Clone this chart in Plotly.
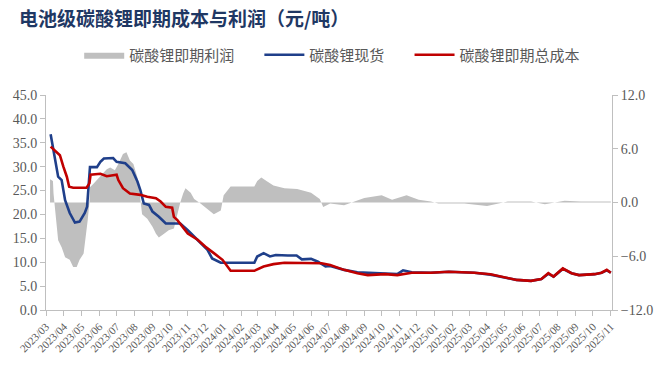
import plotly.graph_objects as go

# 碳酸锂现货 (万元/吨)
spot_dates = ["2023-03-09","2023-03-16","2023-03-22","2023-03-28","2023-04-03","2023-04-11","2023-04-20","2023-04-28",
              "2023-05-07","2023-05-11","2023-05-15","2023-05-16","2023-05-28","2023-06-03","2023-06-09","2023-06-25",
              "2023-07-01","2023-07-16","2023-07-28","2023-08-06","2023-08-11","2023-08-17","2023-08-26","2023-09-01",
              "2023-09-12","2023-09-24","2023-10-11","2023-10-19","2023-11-01","2023-11-18","2023-12-05","2023-12-13",
              "2023-12-28","2024-01-20","2024-02-24","2024-02-29","2024-03-11","2024-03-22","2024-04-01","2024-04-22",
              "2024-05-07","2024-05-16","2024-06-01","2024-06-13","2024-06-26","2024-07-04","2024-07-28","2024-08-20",
              "2024-09-07","2024-10-07","2024-10-28","2024-11-07","2024-11-22","2024-12-25","2025-01-25","2025-03-10",
              "2025-04-07","2025-05-01","2025-05-22","2025-06-16","2025-07-04","2025-07-16","2025-07-25","2025-08-10",
              "2025-08-25","2025-09-07","2025-10-04","2025-10-16","2025-10-25","2025-11-01"]
spot_values = [36.8,32.1,27.9,27.2,23.0,20.3,18.3,18.5,
               20.3,21.6,27.2,29.9,29.9,31.0,31.7,31.8,
               31.0,30.7,29.3,26.9,25.1,22.3,22.0,20.6,
               19.5,18.1,18.1,18.1,16.7,14.7,12.6,10.8,
               9.9,9.9,9.9,11.2,11.9,11.2,11.5,11.4,
               11.4,10.6,10.7,10.1,9.1,9.2,8.4,7.9,
               7.8,7.7,7.5,8.3,7.9,7.8,8.0,7.8,
               7.4,6.8,6.3,6.1,6.5,7.6,7.0,8.6,
               7.7,7.3,7.5,7.8,8.3,7.8]

# 碳酸锂即期总成本 (万元/吨)
cost_dates = ["2023-03-09","2023-03-16","2023-03-25","2023-03-31","2023-04-06","2023-04-10","2023-04-17","2023-05-10",
              "2023-05-15","2023-05-17","2023-06-03","2023-06-14","2023-07-01","2023-07-04","2023-07-12","2023-07-24",
              "2023-08-11","2023-08-23","2023-09-07","2023-09-15","2023-09-24","2023-10-05","2023-10-08","2023-10-14",
              "2023-10-23","2023-11-01","2023-11-18","2023-12-01","2023-12-16","2023-12-31","2024-01-14","2024-02-24",
              "2024-03-11","2024-03-28","2024-04-16","2024-05-13","2024-06-19","2024-07-04","2024-07-28","2024-08-20",
              "2024-09-07","2024-10-07","2024-10-28","2024-11-22","2024-12-25","2025-01-25","2025-03-10","2025-04-07",
              "2025-05-01","2025-05-22","2025-06-16","2025-07-04","2025-07-16","2025-07-25","2025-08-10","2025-08-25",
              "2025-09-07","2025-10-04","2025-10-16","2025-10-25","2025-11-01"]
cost_values = [34.2,33.5,32.4,30.0,27.9,25.8,25.6,25.6,
               26.5,28.3,28.5,28.0,28.3,27.2,25.5,24.4,
               24.1,23.7,23.4,22.7,21.6,21.4,19.5,18.8,
               17.4,16.0,14.7,13.3,11.9,10.5,8.2,8.2,
               9.1,9.6,9.9,9.9,9.8,9.4,8.4,7.7,
               7.3,7.5,7.3,7.8,7.8,8.0,7.8,7.5,
               6.8,6.3,6.1,6.5,7.7,7.0,8.7,7.7,
               7.3,7.5,7.8,8.4,7.8]

# 碳酸锂即期利润 (万元/吨, 右轴)
profit_dates = ["2023-03-08","2023-03-13","2023-03-14","2023-03-19","2023-03-22","2023-03-28","2023-04-03","2023-04-11",
                "2023-04-17","2023-04-23","2023-04-28","2023-05-05","2023-05-09","2023-05-12","2023-05-15","2023-05-16",
                "2023-05-22","2023-06-03","2023-06-14","2023-06-20","2023-06-28","2023-07-04","2023-07-12","2023-07-18",
                "2023-07-24","2023-07-30","2023-08-06","2023-08-10","2023-08-14","2023-08-23","2023-09-01","2023-09-07",
                "2023-09-12","2023-09-21","2023-09-29","2023-10-08","2023-10-14","2023-10-19","2023-10-24","2023-10-28",
                "2023-11-06","2023-11-12","2023-11-23","2023-12-05","2023-12-16","2023-12-28","2024-01-02","2024-01-14",
                "2024-02-24","2024-02-29","2024-03-07","2024-03-16","2024-03-28","2024-04-16","2024-05-08","2024-06-01",
                "2024-06-16","2024-06-22","2024-07-04","2024-07-28","2024-08-10","2024-09-01","2024-10-01","2024-10-19",
                "2024-11-13","2024-12-04","2024-12-25","2025-01-07","2025-02-21","2025-04-01","2025-05-07","2025-06-16",
                "2025-07-10","2025-08-13","2025-09-10","2025-10-25","2025-11-01"]
profit_values = [2.6,2.4,1.0,-2.0,-4.2,-5.0,-6.1,-6.4,
                 -7.2,-7.2,-6.4,-5.7,-3.9,-2.0,0.0,1.7,
                 2.1,3.0,3.7,3.9,3.6,4.3,5.4,5.6,
                 4.7,4.3,2.8,1.0,-1.3,-1.8,-2.7,-3.5,
                 -3.9,-3.5,-3.1,-2.9,-1.3,0.0,1.0,1.6,
                 1.1,0.4,-0.1,-0.7,-1.3,-0.9,0.8,1.8,
                 1.8,2.4,2.8,2.4,1.9,1.6,1.5,1.1,
                 0.4,-0.5,-0.1,-0.3,0.0,0.5,0.8,0.3,
                 0.8,0.3,0.1,-0.1,-0.1,-0.4,0.1,0.1,
                 -0.2,0.2,0.1,0.1,0.1]

left_ticks = [0, 5, 10, 15, 20, 25, 30, 35, 40, 45]
right_ticks = [-12, -6, 0, 6, 12]

CJK = "Noto Sans CJK SC"
SERIF = "Liberation Serif"
GREY_TXT = "#595959"
AXIS_COL = "#bfbfbf"
GAP = "\u00a0" * 6

fig = go.Figure()
# profit on the base (right) axis so the price lines, on the overlaying axis, draw above it
fig.add_trace(go.Scatter(
    x=profit_dates, y=profit_values, name="碳酸锂即期利润" + GAP, yaxis="y",
    mode="lines", line=dict(width=0, color="#bfbfbf"),
    fill="tozeroy", fillcolor="#bfbfbf"))
fig.add_trace(go.Scatter(
    x=spot_dates, y=spot_values, name="碳酸锂现货" + GAP, mode="lines", yaxis="y2",
    line=dict(color="#1f3f8a", width=2.6)))
fig.add_trace(go.Scatter(
    x=cost_dates, y=cost_values, name="碳酸锂即期总成本", mode="lines", yaxis="y2",
    line=dict(color="#c00000", width=2.6)))

fig.update_layout(
    width=660, height=380,
    margin=dict(l=46, r=48, t=95, b=70, autoexpand=False),
    paper_bgcolor="white", plot_bgcolor="white",
    title=dict(text="<b>电池级碳酸锂即期成本与利润（元/吨）</b>",
               font=dict(family=CJK, size=19, color="#1f3864"),
               x=19 / 660, xanchor="left", xref="container",
               y=1 - 19 / 380, yanchor="middle", yref="container", pad=dict(l=0, t=0)),
    legend=dict(orientation="h", x=0.12, xanchor="left", xref="container",
                y=1 - 55 / 380, yanchor="middle", yref="container",
                font=dict(family=CJK, size=15, color=GREY_TXT),
                itemwidth=40, tracegroupgap=0),
    xaxis=dict(type="date", range=["2023-03-01", "2025-11-03"],
               tick0="2023-03-01", dtick="M1", tickformat="%Y/%m",
               tickangle=-45, ticks="outside", ticklen=5, tickcolor=AXIS_COL,
               showline=True, linecolor=AXIS_COL, linewidth=1, showgrid=False,
               tickfont=dict(family=SERIF, size=11, color=GREY_TXT)),
    yaxis=dict(range=[-12, 12], tickvals=right_ticks, tickformat=".1f",
               side="right", anchor="x",
               ticks="outside", ticklen=5, tickcolor=AXIS_COL,
               showline=True, linecolor=AXIS_COL, linewidth=1,
               showgrid=False, zeroline=False,
               tickfont=dict(family=SERIF, size=14, color=GREY_TXT)),
    yaxis2=dict(range=[0, 45], tickvals=left_ticks, tickformat=".1f",
                overlaying="y", side="left", anchor="x",
                ticks="outside", ticklen=5, tickcolor=AXIS_COL,
                showline=True, linecolor=AXIS_COL, linewidth=1,
                showgrid=False, zeroline=False,
                tickfont=dict(family=SERIF, size=14, color=GREY_TXT)),
)

fig.write_html("out.html", config={"displayModeBar": False},
               post_script="document.body.style.margin='0';")
